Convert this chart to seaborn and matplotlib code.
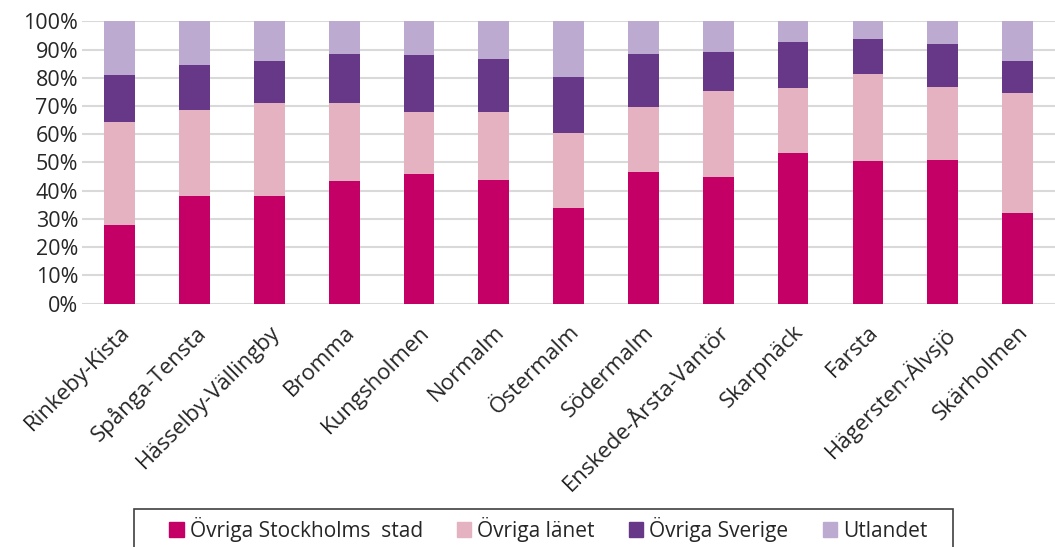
import matplotlib
matplotlib.use("Agg")
import matplotlib.pyplot as plt
import matplotlib.patches as mpatches
import seaborn as sns
import pandas as pd
import numpy as np

# Andel per stadsdel (%), läst ur diagrammet
stadsdelar = ["Rinkeby-Kista", "Spånga-Tensta", "Hässelby-Vällingby", "Bromma",
              "Kungsholmen", "Normalm", "Östermalm", "Södermalm",
              "Enskede-Årsta-Vantör", "Skarpnäck", "Farsta", "Hägersten-Älvsjö",
              "Skärholmen"]
stockholms_stad = [27.9, 38.0, 38.1, 43.6, 45.9, 43.8, 33.9, 46.7, 44.9, 53.3, 50.4, 50.9, 32.1]
lanet = [36.3, 30.5, 33.1, 27.6, 22.0, 24.0, 26.4, 23.1, 30.3, 23.1, 30.9, 25.7, 42.5]
sverige = [16.8, 16.1, 14.9, 17.1, 20.2, 19.0, 20.1, 18.6, 13.9, 16.3, 12.6, 15.3, 11.3]
utlandet = [19.0, 15.4, 13.9, 11.7, 11.9, 13.2, 19.6, 11.6, 10.9, 7.3, 6.1, 8.1, 14.1]

series = ["Övriga Stockholms  stad", "Övriga länet", "Övriga Sverige", "Utlandet"]
colors = ["#C40066", "#E5B2C1", "#673788", "#BCAAD0"]

df = pd.DataFrame({"stadsdel": stadsdelar,
                   series[0]: stockholms_stad, series[1]: lanet,
                   series[2]: sverige, series[3]: utlandet})
df = df.set_index("stadsdel")
# normalisera till 100 %
df = df.div(df.sum(axis=1), axis=0) * 100
cum = df.cumsum(axis=1)

sns.set_style("white")
plt.rcParams["font.family"] = ["Open Sans", "DejaVu Sans"]

fig, ax = plt.subplots(figsize=(10.55, 5.47), dpi=100)
fig.subplots_adjust(left=0.078, right=1.0, top=0.961, bottom=0.445)

# rita staplarna uppifrån och ned så att de staplas
for name, col in reversed(list(zip(series, colors))):
    sns.barplot(x=cum.index, y=cum[name].values, color=col, width=0.41,
                saturation=1, ax=ax, zorder=3, edgecolor="none")

ax.set_ylim(0, 100)
ax.set_xlim(-0.5, len(stadsdelar) - 0.5)
ax.set_yticks(np.arange(0, 101, 10))
ax.set_yticklabels([f"{v}%" for v in range(0, 101, 10)], fontsize=15.5)
ax.yaxis.grid(True, color="#D9D9D9", linewidth=1.5, zorder=0)
ax.set_axisbelow(True)
for s in ax.spines.values():
    s.set_visible(False)
ax.tick_params(axis="both", length=0, pad=3)
ax.tick_params(axis="x", pad=13)
ax.set_xlabel("")
ax.set_ylabel("")
plt.setp(ax.get_xticklabels(), rotation=45, ha="right", rotation_mode="anchor",
         fontsize=16)

# legend: ram ritas separat (nederkanten ligger utanför bilden)
frame = mpatches.Rectangle((134 / 1055, -0.05), (953 - 134) / 1055, 0.05 + 1 - 509 / 547,
                           transform=fig.transFigure, facecolor="white",
                           edgecolor="#404040", linewidth=1.2)
fig.patches.append(frame)

handles = [mpatches.Patch(color=c, label=n) for n, c in zip(series, colors)]
leg = fig.legend(handles=handles, loc="upper left",
                 bbox_to_anchor=(169 / 1055, 1 - 517 / 547),
                 borderaxespad=0, borderpad=0, ncol=4, frameon=False, fontsize=15,
                 handlelength=0.7, handleheight=0.7, handletextpad=0.29,
                 columnspacing=1.63)

fig.savefig("out.png", dpi=100)
